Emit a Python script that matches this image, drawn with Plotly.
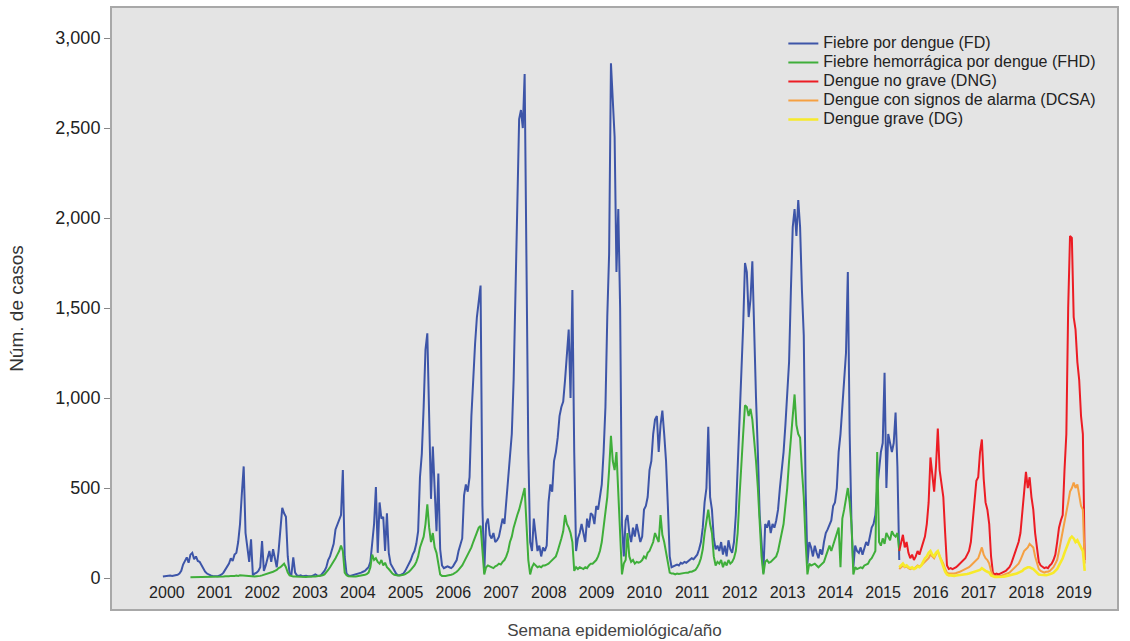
import plotly.graph_objects as go

# ---------------- data (biweekly samples) ----------------
STEP = 1 / 26          # two epidemiological weeks, in years
FD_START = 1999.916
FHD_START = FD_START + 15 * STEP
NEW_START = FD_START + 401 * STEP

years = list(range(2000, 2020))
year_labels = [str(y) for y in years]

fd_values = [
    8, 10, 12, 10, 14, 12, 15, 14, 18, 25, 40, 75, 100, 115, 85, 130, 140, 105, 120, 95, 90, 70, 55, 35, 25, 18,
    15, 12, 10, 12, 10, 15, 20, 30, 45, 60, 80, 110, 95, 130, 140, 200, 300, 470, 620, 250, 160, 90, 215, 15, 25, 30,
    40, 60, 205, 40, 70, 110, 150, 90, 160, 110, 60, 150, 250, 390, 360, 340, 120, 25, 20, 115, 30, 15, 12, 15, 10, 12,
    12, 10, 8, 10, 15, 20, 15, 12, 15, 25, 40, 60, 100, 120, 160, 190, 270, 300, 330, 350, 600, 120, 25, 15, 12, 15,
    15, 18, 20, 25, 30, 35, 40, 50, 60, 90, 200, 300, 505, 140, 420, 330, 340, 150, 360, 140, 80, 60, 40, 25, 15, 15,
    20, 25, 40, 60, 80, 100, 130, 150, 190, 260, 560, 690, 950, 1270, 1360, 820, 440, 730, 490, 260, 580, 160, 70, 55, 60, 65,
    60, 55, 65, 80, 100, 150, 180, 220, 460, 520, 480, 560, 900, 1150, 1300, 1450, 1560, 1625, 400, 30, 300, 330, 240, 220, 250, 200,
    210, 230, 280, 330, 300, 420, 560, 640, 800, 1100, 1550, 1950, 2550, 2600, 2500, 2800, 1500, 700, 200, 150, 330, 250, 150, 180, 120, 170,
    150, 180, 420, 520, 480, 650, 700, 780, 900, 950, 980, 1100, 1250, 1380, 1000, 1600, 700, 150, 220, 250, 300, 250, 200, 330, 280, 360,
    350, 300, 400, 380, 450, 520, 700, 950, 1450, 1800, 2860, 2650, 2450, 1700, 2050, 1500, 300, 120, 320, 350, 250, 200, 280, 230, 300, 250,
    200, 230, 380, 400, 450, 600, 650, 800, 880, 900, 700, 850, 930, 800, 650, 400, 120, 60, 65, 70, 75, 70, 85, 80, 90, 85,
    95, 100, 110, 105, 120, 130, 160, 200, 280, 420, 500, 840, 450, 380, 220, 160, 180, 150, 200, 130, 180, 120, 210, 160, 140, 200,
    350, 600, 900, 1150, 1400, 1750, 1700, 1450, 1550, 1760, 1300, 1000, 700, 350, 200, 30, 300, 280, 320, 250, 300, 280, 320, 380, 500, 600,
    700, 850, 1000, 1200, 1600, 1950, 2050, 1900, 2100, 1950, 1600, 1350, 500, 80, 200, 170, 120, 180, 140, 110, 160, 130, 200, 250, 270, 300,
    320, 400, 420, 500, 700, 800, 950, 1100, 1250, 1700, 800, 300, 60, 180, 150, 140, 170, 130, 160, 200, 180, 240, 280, 300, 350, 500,
    620, 700, 750, 1140, 500, 800, 750, 700, 750, 920, 620, 100,
]

fhd_values = [
    5, 5, 6, 5, 6, 5, 6, 7, 6, 5, 6,
    6, 5, 6, 7, 6, 8, 7, 8, 10, 9, 10, 12, 10, 12, 14, 12, 15, 14, 15, 12, 10, 9, 8, 10, 9, 10,
    10, 12, 15, 18, 20, 22, 25, 30, 35, 40, 45, 55, 60, 70, 80, 60, 30, 15, 10, 8, 8, 7, 8, 7, 6, 7,
    6, 7, 6, 7, 8, 8, 9, 10, 12, 15, 20, 30, 45, 60, 75, 95, 110, 130, 150, 180, 150, 30, 15, 10, 8, 8,
    8, 9, 10, 12, 14, 16, 18, 22, 30, 60, 130, 100, 110, 90, 80, 100, 70, 85, 60, 50, 35, 25, 18, 15, 14, 14,
    15, 18, 22, 28, 35, 45, 55, 70, 90, 120, 170, 200, 230, 300, 410, 280, 200, 250, 170, 140, 90, 20, 12, 10, 12, 14,
    15, 18, 22, 28, 35, 45, 55, 70, 90, 110, 130, 150, 170, 200, 230, 260, 280, 290, 150, 20, 60, 70, 65, 60, 55, 65,
    70, 80, 75, 90, 100, 120, 150, 200, 230, 280, 320, 350, 380, 420, 470, 500, 300, 100, 20, 60, 80, 70, 60, 65, 60, 70,
    70, 75, 80, 90, 100, 110, 120, 150, 180, 220, 260, 350, 300, 280, 250, 200, 40, 60, 50, 60, 55, 50, 60, 55, 70, 80,
    80, 90, 100, 120, 150, 200, 280, 350, 450, 600, 790, 650, 600, 700, 500, 300, 20, 80, 100, 250, 120, 90, 100, 80, 90, 85,
    90, 100, 120, 110, 140, 150, 180, 200, 250, 220, 200, 350, 240, 200, 150, 80, 30, 25, 25, 20, 25, 22, 25, 28, 30, 30,
    30, 35, 35, 40, 45, 60, 80, 110, 160, 250, 330, 380, 300, 250, 120, 70, 90, 80, 100, 60, 90, 70, 100, 80, 90, 110,
    150, 250, 450, 650, 800, 960, 950, 900, 940, 880, 780, 650, 500, 300, 120, 20, 90, 100, 85, 90, 100, 110, 120, 150, 200, 250,
    300, 400, 500, 650, 800, 900, 1020, 850, 800, 780, 600, 450, 200, 20, 80, 70, 75, 80, 70, 60, 70, 80, 90, 120, 150, 180,
    150, 180, 220, 250, 280, 60, 330, 380, 450, 500, 420, 300, 20, 60, 50, 55, 60, 55, 70, 75, 80, 100, 110, 130, 150, 700,
    200, 180, 220, 190, 250, 230, 210, 260, 240, 230, 250, 150,
]

dng_values = [
    150, 200, 240, 170, 200, 140, 110, 130, 100, 120, 150, 130, 160, 200, 230, 300, 420, 670, 560, 480, 620, 830, 600, 520, 450, 250,
    70, 50, 55, 50, 55, 60, 70, 80, 90, 100, 110, 130, 150, 200, 300, 420, 540, 560, 700, 770, 550, 420, 380, 300, 120,
    30, 20, 25, 20, 25, 30, 35, 40, 50, 60, 80, 110, 130, 160, 200, 250, 380, 460, 590, 500, 560, 450, 380, 250, 170,
    90, 70, 60, 55, 60, 55, 70, 80, 100, 130, 200, 280, 320, 350, 600, 800, 1500, 1900, 1890, 1450, 1380, 1200, 1100, 900, 800, 100,
]

dcsa_values = [
    50, 60, 70, 60, 65, 55, 50, 55, 50, 60, 70, 65, 70, 80, 90, 100, 110, 130, 120, 110, 130, 150, 120, 100, 80, 50,
    30, 25, 25, 22, 25, 28, 30, 35, 40, 45, 50, 55, 60, 70, 80, 90, 100, 110, 140, 170, 130, 110, 100, 80, 40,
    15, 12, 12, 10, 12, 15, 18, 20, 25, 30, 40, 50, 60, 70, 80, 100, 130, 150, 160, 170, 190, 180, 170, 120, 80,
    50, 40, 35, 30, 35, 35, 40, 50, 60, 80, 100, 150, 200, 250, 300, 350, 420, 480, 500, 530, 500, 520, 450, 400, 380, 80,
]

dg_values = [
    60, 70, 80, 65, 70, 60, 55, 60, 50, 55, 65, 60, 70, 90, 110, 120, 140, 150, 130, 120, 140, 150, 120, 90, 60, 35,
    20, 15, 15, 12, 12, 14, 15, 15, 18, 20, 20, 22, 25, 28, 30, 32, 35, 40, 45, 55, 45, 40, 35, 30, 15,
    8, 6, 6, 5, 6, 7, 8, 10, 12, 14, 16, 20, 22, 25, 30, 35, 40, 50, 55, 60, 60, 55, 50, 40, 30,
    20, 18, 16, 15, 16, 18, 20, 25, 30, 40, 50, 70, 90, 110, 140, 170, 200, 220, 230, 220, 200, 210, 190, 170, 150, 40,
]

series = [
    ("Fiebre por dengue (FD)", FD_START, fd_values, "#3d55a8", 2.0),
    ("Fiebre hemorrágica por dengue (FHD)", FHD_START, fhd_values, "#3fae3a", 2.0),
    ("Dengue no grave (DNG)", NEW_START, dng_values, "#ec1c24", 2.0),
    ("Dengue con signos de alarma (DCSA)", NEW_START, dcsa_values, "#f5a042", 2.0),
    ("Dengue grave (DG)", NEW_START, dg_values, "#f7ea2a", 2.6),
]

# ---------------- figure ----------------
fig = go.Figure()
for name, start, vals, color, width in series:
    xs = [start + i * STEP for i in range(len(vals))]
    fig.add_trace(go.Scatter(x=xs, y=vals, mode="lines",
                             name='<span style="font-size:16px">' + name + '</span>',
                             line=dict(color=color, width=width)))

FONT = "Liberation Sans, Arial, Helvetica, sans-serif"

fig.update_layout(
    width=1130, height=641,
    margin=dict(l=112, r=13, t=8, b=32),
    paper_bgcolor="white",
    plot_bgcolor="#e4e4e4",
    font=dict(family=FONT, color="#222222"),
    showlegend=True,
    legend=dict(x=0.668, y=0.965, xanchor="left", yanchor="top",
                bgcolor="rgba(0,0,0,0)", font=dict(size=12, color="#222222"),
                tracegroupgap=0, itemwidth=30),
    xaxis=dict(range=[1998.85, 2019.90], tickmode="array", tickvals=years,
               ticktext=year_labels, ticklabelposition="inside", ticks="",
               ticklabelstandoff=8,
               showgrid=False, zeroline=False, showline=True, linecolor="#a8a8a8",
               linewidth=2, mirror=True, tickfont=dict(size=16, color="#222222"),
               automargin=False,
               title=dict(text="Semana epidemiológica/año", font=dict(size=17, color="#444444"),
                          standoff=24)),
    yaxis=dict(range=[-172, 3167], tickmode="array",
               tickvals=[0, 500, 1000, 1500, 2000, 2500, 3000],
               ticktext=["0", "500", "1,000", "1,500", "2,000", "2,500", "3,000"],
               ticks="outside", ticklen=6, tickcolor="#888888", tickwidth=1,
               showgrid=False, zeroline=False, showline=True, linecolor="#a8a8a8",
               linewidth=2, mirror=True, tickfont=dict(size=18, color="#222222"),
               automargin=False,
               title=dict(text="Núm. de casos", font=dict(size=19, color="#333333"),
                          standoff=27)),
)

fig.write_html("out.html", config={"displayModeBar": False},
               post_script="document.body.style.margin='0';")
